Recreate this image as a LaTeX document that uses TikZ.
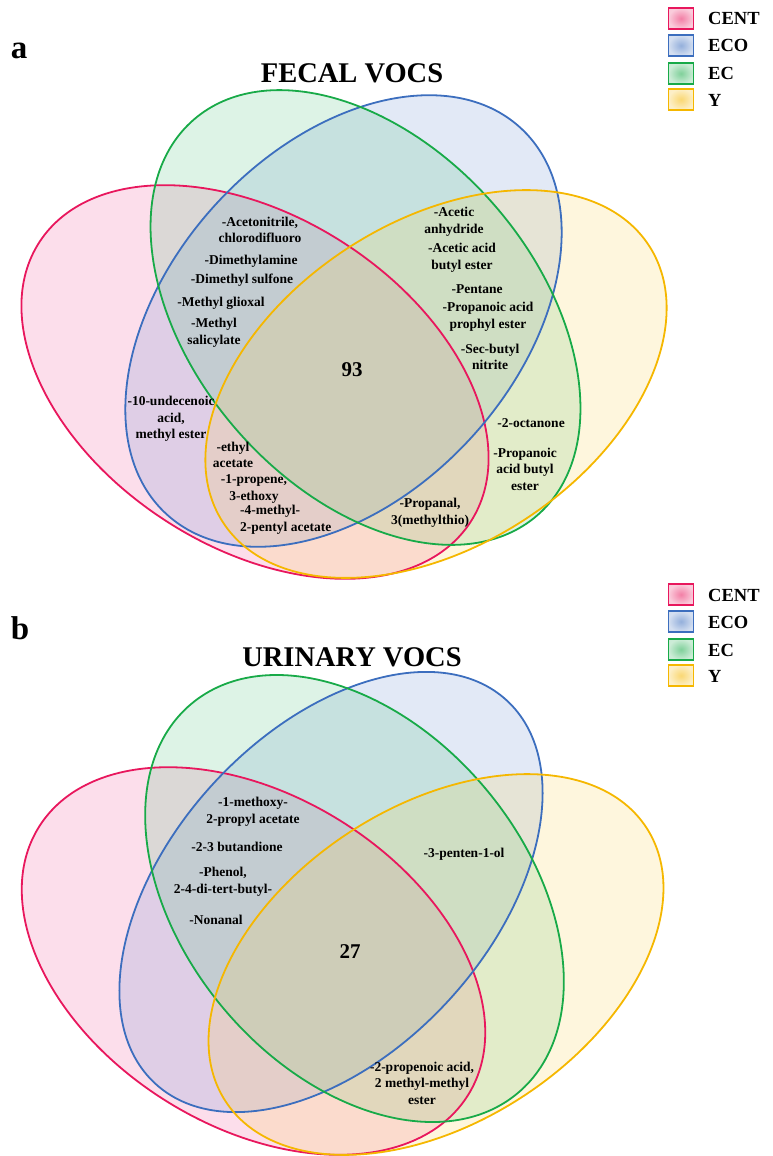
\documentclass[tikz,border=0pt]{standalone}
\usepackage{fontspec}
\setmainfont{Liberation Serif}
\definecolor{cR}{RGB}{232,23,93}
\definecolor{cB}{RGB}{60,110,190}
\definecolor{cG}{RGB}{24,170,72}
\definecolor{cY}{RGB}{245,183,0}
\definecolor{fR}{RGB}{240,90,155}
\definecolor{fB}{RGB}{110,145,210}
\definecolor{fG}{RGB}{85,195,130}
\definecolor{fY}{RGB}{250,210,85}
\newcommand\vennE[6]{\path[shift={(#1,#2)}, rotate=#5, #6] (0,0) ellipse [x radius=#3pt, y radius=#4pt];}
\begin{document}
\begin{tikzpicture}[x=1pt,y=-1pt,
  lbl/.style={font=\bfseries\fontsize{13.5}{16.5}\selectfont, align=center, inner sep=0pt},
  num/.style={font=\bfseries\fontsize{21}{24}\selectfont, inner sep=0pt},
  ttl/.style={font=\bfseries\fontsize{28.5}{32}\selectfont, inner sep=0pt, anchor=base},
  pnl/.style={font=\bfseries\fontsize{33}{36}\selectfont, inner sep=0pt, anchor=base},
  legbox/.style={minimum width=25pt, minimum height=21pt, inner sep=0pt, line width=1.5pt,
    draw=#1, inner color=#1!55, outer color=#1!22},
  legtxt/.style={font=\bfseries\fontsize{18.5}{20}\selectfont, inner sep=0pt, anchor=base west},
  vfill/.style={fill=#1, fill opacity=0.2},
  vline/.style={draw=#1, line width=1.8pt}]
\path[use as bounding box] (0,0) rectangle (773,1156);

% ---------- panel a ellipses ----------
\vennE{255}{382}{257}{165}{-33}{vfill=fR}
\vennE{343.5}{321}{262}{173}{47.5}{vfill=fB}
\vennE{365.5}{317.5}{262}{171}{-49}{vfill=fG}
\vennE{436}{384}{254}{162}{33}{vfill=fY}
\vennE{255}{382}{257}{165}{-33}{vline=cR}
\vennE{343.5}{321}{262}{173}{47.5}{vline=cB}
\vennE{365.5}{317.5}{262}{171}{-49}{vline=cG}
\vennE{436}{384}{254}{162}{33}{vline=cY}

% ---------- panel b ellipses ----------
\vennE{253.5}{961}{253}{165}{-32}{vfill=fR}
\vennE{331}{892}{260}{160}{47.5}{vfill=fB}
\vennE{354.5}{898.5}{254}{171}{-50}{vfill=fG}
\vennE{436}{964.5}{251}{158}{33}{vfill=fY}
\vennE{253.5}{961}{253}{165}{-32}{vline=cR}
\vennE{331}{892}{260}{160}{47.5}{vline=cB}
\vennE{354.5}{898.5}{254}{171}{-50}{vline=cG}
\vennE{436}{964.5}{251}{158}{33}{vline=cY}

% ---------- panel labels and titles ----------
\node[pnl] (pa) at (19,59) {a};
\node[pnl] (pb) at (20,639) {b};
\node[ttl] (ta) at (352,82) {FECAL VOCS};
\node[ttl] (tb) at (352,666) {URINARY VOCS};

% ---------- legends ----------
\foreach \yy/\nm in {0/la,576/lb}{
  \node[legbox=cR] (\nm R) at (681,18.5+\yy) {};
  \node[legbox=cB] (\nm B) at (681,45.5+\yy) {};
  \node[legbox=cG] (\nm G) at (681,73.5+\yy) {};
  \node[legbox=cY] (\nm Y) at (681,99.5+\yy) {};
  \node[legtxt] (\nm RT) at (708,25+\yy) {CENT};
  \node[legtxt] (\nm BT) at (708,52+\yy) {ECO};
  \node[legtxt] (\nm GT) at (708,80+\yy) {EC};
  \node[legtxt] (\nm YT) at (708,106+\yy) {Y};
}

% ---------- panel a texts ----------
\node[lbl] (acet) at (260,230) {-Acetonitrile,\\chlorodifluoro};
\node[lbl] (dma) at (251,261) {-Dimethylamine};
\node[lbl] (dms) at (242,280) {-Dimethyl sulfone};
\node[lbl] (mgl) at (221,303) {-Methyl glioxal};
\node[lbl] (msal) at (214,333) {-Methyl\\salicylate};
\node[num] (n93) at (352,370) {93};
\node[lbl] (acan) at (454,222) {-Acetic\\anhydride};
\node[lbl] (acbe) at (462,258) {-Acetic acid\\butyl ester};
\node[lbl] (pent) at (477,289) {-Pentane};
\node[lbl] (ppe) at (488,317) {-Propanoic acid\\prophyl ester};
\node[lbl] (sbn) at (490,357) {-Sec-butyl\\nitrite};
\node[lbl] (und) at (171,419) {-10-undecenoic\\acid,\\methyl ester};
\node[lbl] (eta) at (233,455) {-ethyl\\acetate};
\node[lbl] (prop) at (254,489) {-1-propene,\\3-ethoxy};
\node[lbl, align=left, anchor=west] (mpa) at (240,520) {-4-methyl-\\2-pentyl acetate};
\node[lbl] (pmt) at (430,513) {-Propanal,\\3(methylthio)};
\node[lbl] (oct) at (531,423) {-2-octanone};
\node[lbl] (pab) at (525,469) {-Propanoic\\acid butyl\\ester};

% ---------- panel b texts ----------
\node[lbl] (mpac) at (253,812) {-1-methoxy-\\2-propyl acetate};
\node[lbl] (but) at (237,847) {-2-3 butandione};
\node[lbl] (phen) at (223,882) {-Phenol,\\2-4-di-tert-butyl-};
\node[lbl] (non) at (216,920) {-Nonanal};
\node[lbl] (pent1) at (464,854) {-3-penten-1-ol};
\node[num] (n27) at (350,952) {27};
\node[lbl] (prac) at (422,1083) {-2-propenoic acid,\\2 methyl-methyl\\ester};
\end{tikzpicture}
\end{document}
